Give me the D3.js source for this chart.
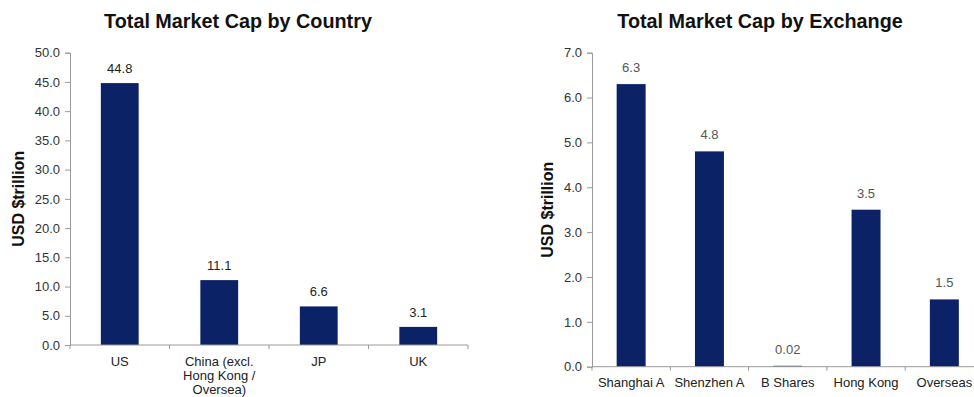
<!DOCTYPE html>
<html>
<head>
<meta charset="utf-8">
<script src="https://cdn.jsdelivr.net/npm/d3@7"></script>
<style>
  html, body { margin: 0; padding: 0; background: #fff; }
  svg text { font-family: "Liberation Sans", Arial, Helvetica, sans-serif; }
</style>
</head>
<body>
<svg id="chart" width="974" height="397"></svg>
<script>
// Market capitalisation by country (USD trillion)
const countryCategories = ["US", "China (excl.|Hong Kong /|Oversea)", "JP", "UK"];
const countryValues = [44.8, 11.1, 6.6, 3.1];
const countryTicks = [0, 5, 10, 15, 20, 25, 30, 35, 40, 45, 50];

// Market capitalisation by exchange (USD trillion)
const exchangeCategories = ["Shanghai A", "Shenzhen A", "B Shares", "Hong Kong", "Overseas"];
const exchangeValues = [6.3, 4.8, 0.02, 3.5, 1.5];
const exchangeLabels = ["6.3", "4.8", "0.02", "3.5", "1.5"];
const exchangeTicks = [0, 1, 2, 3, 4, 5, 6, 7];

const BAR = "#0b2266";
const AXIS = "#9a9a9a";
const svg = d3.select("#chart");

function panel(cfg) {
  const g = svg.append("g");
  const x = d3.scaleBand().domain(cfg.categories.map((d, i) => i))
    .range([cfg.left, cfg.right]).paddingInner(0).paddingOuter(0);
  const y = d3.scaleLinear().domain([0, cfg.max]).range([cfg.bottom, cfg.top]);

  // title
  g.append("text").attr("x", cfg.titleX).attr("y", 28)
    .attr("text-anchor", "middle").attr("font-size", "19.8px").attr("font-weight", "bold")
    .attr("fill", "#111").text(cfg.title);

  // y axis label
  g.append("text")
    .attr("transform", `translate(${cfg.ylabX},${(cfg.top + cfg.bottom) / 2}) rotate(-90)`)
    .attr("text-anchor", "middle").attr("font-size", "16px").attr("font-weight", "bold")
    .attr("fill", "#111").text("USD $trillion");

  // y axis
  const yAxis = d3.axisLeft(y).tickValues(cfg.ticks).tickSize(5).tickPadding(5)
    .tickFormat(d3.format(".1f"));
  const ya = g.append("g").attr("transform", `translate(${cfg.left},0)`).call(yAxis);
  ya.select(".domain").attr("stroke", AXIS);
  ya.selectAll(".tick line").attr("stroke", AXIS);
  ya.selectAll(".tick text").attr("font-size", "13px").attr("fill", "#333")
    .attr("font-family", "Liberation Sans, Arial, sans-serif");

  // bars
  const bw = x.bandwidth() * cfg.barFrac;
  g.selectAll("rect.bar").data(cfg.values).join("rect").attr("class", "bar")
    .attr("x", (d, i) => x(i) + (x.bandwidth() - bw) / 2)
    .attr("width", bw)
    .attr("y", d => y(d))
    .attr("height", d => cfg.bottom - y(d))
    .attr("fill", BAR);

  // value labels
  g.selectAll("text.val").data(cfg.values).join("text").attr("class", "val")
    .attr("x", (d, i) => x(i) + x.bandwidth() / 2)
    .attr("y", d => y(d) - cfg.labelGap)
    .attr("text-anchor", "middle").attr("font-size", "13px").attr("fill", cfg.labelColor)
    .text((d, i) => cfg.labels[i]);

  // x axis line and boundary ticks
  g.append("line").attr("x1", cfg.left).attr("x2", cfg.right)
    .attr("y1", cfg.bottom).attr("y2", cfg.bottom).attr("stroke", AXIS);
  const bounds = d3.range(cfg.categories.length + 1).map(i =>
    i < cfg.categories.length ? x(i) : cfg.right);
  g.selectAll("line.xt").data(bounds).join("line").attr("class", "xt")
    .attr("x1", d => d).attr("x2", d => d)
    .attr("y1", cfg.bottom).attr("y2", cfg.bottom + 4).attr("stroke", AXIS);

  // category labels (multi-line split on "|")
  cfg.categories.forEach((c, i) => {
    const t = g.append("text").attr("text-anchor", "middle")
      .attr("font-size", "13px").attr("fill", "#222");
    c.split("|").forEach((line, j) => {
      t.append("tspan").attr("x", x(i) + x.bandwidth() / 2)
        .attr("y", cfg.bottom + cfg.catOffset + j * 14).text(line);
    });
  });
}

panel({
  title: "Total Market Cap by Country", titleX: 238,
  categories: countryCategories, values: countryValues,
  labels: countryValues.map(d => d3.format(".1f")(d)),
  ticks: countryTicks, max: 50,
  left: 70, right: 468, top: 52.7, bottom: 345,
  ylabX: 24, barFrac: 0.38, labelGap: 10, labelColor: "#222", catOffset: 20.5
});

panel({
  title: "Total Market Cap by Exchange", titleX: 760,
  categories: exchangeCategories, values: exchangeValues,
  labels: exchangeLabels,
  ticks: exchangeTicks, max: 7,
  left: 592, right: 983.5, top: 52.7, bottom: 366.7,
  ylabX: 553, barFrac: 0.37, labelGap: 12, labelColor: "#555", catOffset: 20.5
});
</script>
</body>
</html>
